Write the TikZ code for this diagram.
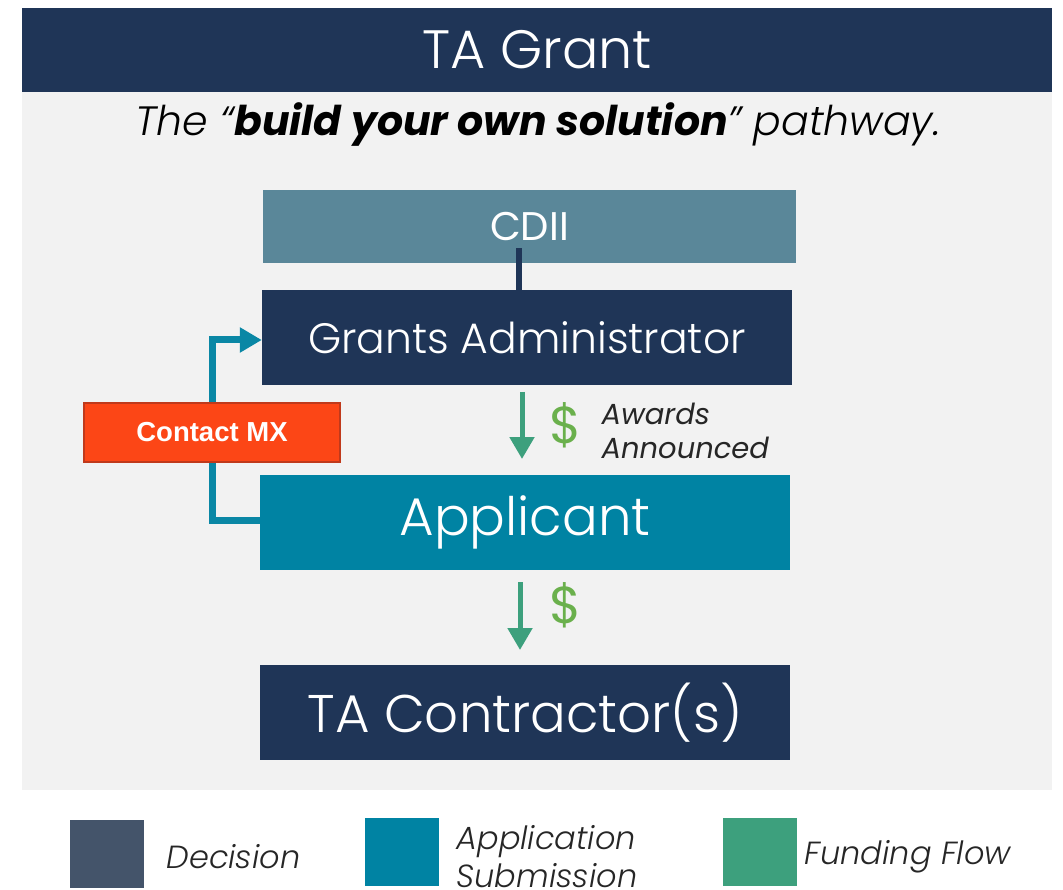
\documentclass[tikz,border=0pt]{standalone}
\usepackage{fontspec}
\setmainfont{Poppins}
\newfontfamily\lightfont{Poppins Light}
\newfontfamily\arialfont{Liberation Sans}
\usetikzlibrary{arrows.meta}
\definecolor{navy}{HTML}{1F3557}
\definecolor{cdiic}{HTML}{5A8799}
\definecolor{tealc}{HTML}{0083A3}
\definecolor{panel}{HTML}{F2F2F2}
\definecolor{mxfill}{HTML}{FC4616}
\definecolor{mxdraw}{HTML}{C0391B}
\definecolor{arrowteal}{HTML}{0A87A5}
\definecolor{fundgreen}{HTML}{3DA07D}
\definecolor{dollar}{HTML}{6AB04C}
\definecolor{decisionc}{HTML}{44546A}
\definecolor{textgray}{HTML}{262626}
\tikzset{
  boxnode/.style={minimum width=530pt, minimum height=95pt, inner sep=0pt, text=white},
  fundarrow/.style={draw=fundgreen, line width=5pt, -{Triangle[length=22pt,width=24pt]}},
  legsq/.style={minimum width=74pt, minimum height=68pt, inner sep=0pt},
  legtxt/.style={anchor=west, font=\fontsize{32}{38}\selectfont\lightfont\itshape, text=textgray, align=left}
}
\begin{document}
\begin{tikzpicture}[x=1pt,y=-1pt]
\useasboundingbox (0,0) rectangle (1063,890);
\fill[white] (0,0) rectangle (1063,890);
\fill[panel] (22,92) rectangle (1052,790);
\fill[navy] (22,8) rectangle (1052,92);
\node (title) at (537,50) {\lightfont\fontsize{54}{60}\selectfont\color{white}TA Grant};
\node (sub) at (538,125) {\fontsize{41}{48}\selectfont\itshape{\lightfont\itshape The \textquotedblleft}\textbf{build your own solution}{\lightfont\itshape\textquotedblright\ pathway.}};
\node[boxnode, fill=cdiic, minimum width=533pt, minimum height=73pt] (cdii) at (529.5,226.5) {\fontsize{40}{48}\selectfont CDII};
\node[boxnode, fill=navy] (ga) at (527,337.5) {\lightfont\fontsize{42.5}{50}\selectfont Grants Administrator};
\node[boxnode, fill=tealc] (app) at (525,522.5) {\lightfont\fontsize{53}{60}\selectfont Applicant};
\node[boxnode, fill=navy] (ta) at (525,712.5) {\lightfont\fontsize{53}{60}\selectfont TA Contractor(s)};
\draw[navy, line width=6pt] ([yshift=15pt]cdii.south -| 519,0) -- (ga.north -| 519,0);
\draw[arrowteal, line width=7pt, -{Triangle[length=22pt,width=24pt]}] (app.west |- 0,520) -- (212,520) -- (212,340) -- (ga.west |- 0,340);
\node[fill=mxfill, draw=mxdraw, line width=2pt, minimum width=256pt, minimum height=59pt, inner sep=0pt] (mx) at (212,432.5) {\arialfont\bfseries\fontsize{27.5}{32}\selectfont\color{white}Contact MX};
\coordinate (a1s) at (522,392);
\coordinate (a1e) at (522,459);
\draw[fundarrow] (a1s) -- (a1e);
\node[text=dollar] (d1) at (566,425) {\fontsize{52}{56}\selectfont\$};
\node[anchor=west, text=textgray, align=left, font=\fontsize{29}{34}\selectfont\itshape] (aw) at (598,431) {Awards\\Announced};
\coordinate (a2s) at (520,582);
\coordinate (a2e) at (520,650);
\draw[fundarrow] (a2s) -- (a2e);
\node[text=dollar] (d2) at (566,605) {\fontsize{52}{56}\selectfont\$};
\node[legsq, fill=decisionc] (l1) at (106.5,854) {};
\node[legtxt] (l1t) at (163,857) {Decision};
\node[legsq, fill=tealc] (l2) at (401.5,852) {};
\node[legtxt] (l2t) at (453,857) {Application\\Submission};
\node[legsq, fill=fundgreen] (l3) at (759.5,852) {};
\node[legtxt] (l3t) at (801,857) {Funding Flow};
\end{tikzpicture}
\end{document}
